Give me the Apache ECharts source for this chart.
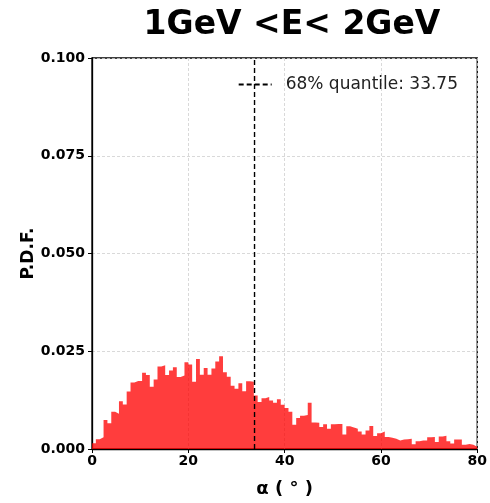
<!DOCTYPE html>
<html>
<head>
<meta charset="utf-8">
<script src="https://cdn.jsdelivr.net/npm/echarts@6/dist/echarts.min.js"></script>
<style>
  html, body { margin: 0; padding: 0; background: #fff; }
  #chart { width: 490px; height: 503px; }
</style>
</head>
<body>
<div id="chart"></div>
<script>
var binWidth = 0.8;

// P.D.F. per 0.8 degree bin, 0 -> 80 deg
var pdf = [
  0.0015, 0.0025, 0.0030, 0.0074, 0.0066, 0.0095, 0.0090, 0.0122, 0.0114, 0.0147,
  0.0170, 0.0174, 0.0174, 0.0195, 0.0189, 0.0159, 0.0178, 0.0211, 0.0214, 0.0189,
  0.0201, 0.0209, 0.0184, 0.0188, 0.0222, 0.0216, 0.0172, 0.0230, 0.0190, 0.0207,
  0.0190, 0.0206, 0.0224, 0.0237, 0.0196, 0.0185, 0.0162, 0.0154, 0.0168, 0.0148,
  0.0173, 0.0172, 0.0137, 0.0120, 0.0130, 0.0133, 0.0124, 0.0118, 0.0127, 0.0113,
  0.0105, 0.0095, 0.0062, 0.0079, 0.0085, 0.0087, 0.0118, 0.0068, 0.0067, 0.0056,
  0.0063, 0.0052, 0.0063, 0.0064, 0.0064, 0.0037, 0.0058, 0.0055, 0.0052, 0.0045,
  0.0037, 0.0047, 0.0059, 0.0033, 0.0040, 0.0045, 0.0031, 0.0029, 0.0026, 0.0022,
  0.0024, 0.0025, 0.0026, 0.0012, 0.0020, 0.0022, 0.0022, 0.0030, 0.0031, 0.0018,
  0.0032, 0.0034, 0.0020, 0.0014, 0.0024, 0.0024, 0.0011, 0.0013, 0.0011, 0.0006
];

var quantile = 33.75;
var quantileName = '68% quantile: 33.75';

var stepData = [];
for (var k = 0; k < pdf.length; k++) {
  stepData.push([k * binWidth, pdf[k]]);
}
stepData.push([pdf.length * binWidth, pdf[pdf.length - 1]]);

var chart = echarts.init(document.getElementById('chart'));
var font = 'DejaVu Sans';

var option = {
  animation: false,
  textStyle: { fontFamily: font },
  title: {
    text: '1GeV <E< 2GeV',
    left: 287,
    textAlign: 'center',
    top: 4,
    textStyle: { fontFamily: font, fontSize: 33, fontWeight: 'bold', color: '#000' }
  },
  legend: {
    data: [quantileName],
    right: 27,
    top: 71,
    itemWidth: 33,
    itemHeight: 14,
    itemStyle: { opacity: 0 },
    textStyle: { fontFamily: font, fontSize: 17, color: '#222', padding: [0, 0, 0, 9] }
  },
  grid: {
    left: 92, right: 12, top: 58, bottom: 45,
    show: true, borderColor: '#000', borderWidth: 1.3
  },
  xAxis: {
    type: 'value',
    min: 0, max: 80, interval: 20,
    name: 'α ( ° )',
    nameLocation: 'middle',
    nameGap: 31,
    nameMoveOverlap: false,
    nameTextStyle: { fontFamily: font, fontSize: 18, fontWeight: 'bold', color: '#000' },
    axisLine: { show: true, lineStyle: { color: '#000', width: 1.3 } },
    axisTick: { show: true, length: 4, lineStyle: { color: '#000' } },
    axisLabel: { fontFamily: font, fontSize: 14, fontWeight: 'bold', color: '#000', margin: 5 },
    splitLine: { show: true, lineStyle: { color: '#cfcfcf', type: [3, 2], width: 0.8 } }
  },
  yAxis: {
    type: 'value',
    min: 0, max: 0.1, interval: 0.025,
    name: 'P.D.F.',
    nameLocation: 'middle',
    nameGap: 55,
    nameMoveOverlap: false,
    nameTextStyle: { fontFamily: font, fontSize: 17, fontWeight: 'bold', color: '#000' },
    axisLine: { show: true, lineStyle: { color: '#000', width: 1.3 } },
    axisTick: { show: true, length: 4, lineStyle: { color: '#000' } },
    axisLabel: {
      fontFamily: font, fontSize: 14, fontWeight: 'bold', color: '#000', margin: 7,
      formatter: function(v) { return v.toFixed(3); }
    },
    splitLine: { show: true, lineStyle: { color: '#cfcfcf', type: [3, 2], width: 0.8 } }
  },
  series: [
    {
      name: 'hist',
      type: 'line',
      step: 'end',
      data: stepData,
      symbol: 'none',
      lineStyle: { width: 0 },
      areaStyle: { color: 'rgba(255,0,0,0.76)', opacity: 1 },
      z: 2
    },
    {
      name: quantileName,
      type: 'line',
      data: [[quantile, 0], [quantile, 0.1]],
      symbol: 'none',
      lineStyle: { color: '#000', width: 1.4, type: [5, 3] },
      itemStyle: { color: '#000' },
      z: 3
    }
  ]
};

chart.setOption(option);
</script>
</body>
</html>
